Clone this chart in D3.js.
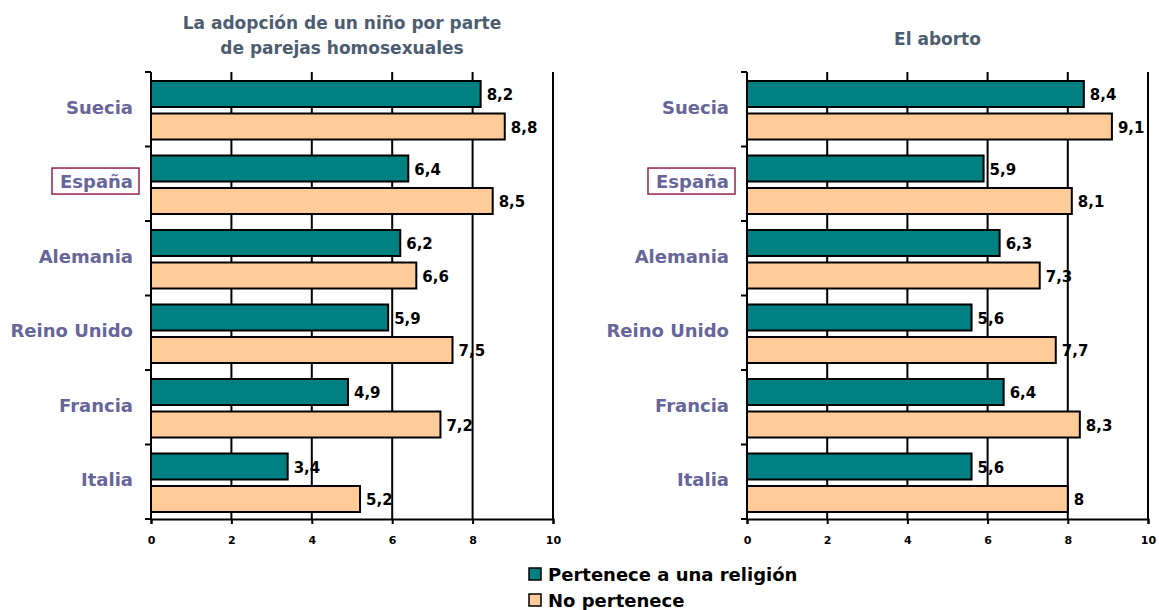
<!DOCTYPE html>
<html>
<head>
<meta charset="utf-8">
<script src="https://cdn.jsdelivr.net/npm/d3@7"></script>
<style>
  body { margin: 0; background: #fff; }
  svg text { font-family: "DejaVu Sans", Verdana, sans-serif; font-weight: bold; }
</style>
</head>
<body>
<svg id="chart" width="1159" height="610"></svg>
<script>
// datos
let paises = ["Suecia", "España", "Alemania", "Reino Unido", "Francia", "Italia"];
let series = ["Pertenece a una religión", "No pertenece"];
let adopcionReligion = [8.2, 6.4, 6.2, 5.9, 4.9, 3.4];
let adopcionNo = [8.8, 8.5, 6.6, 7.5, 7.2, 5.2];
let abortoReligion = [8.4, 5.9, 6.3, 5.6, 6.4, 5.6];
let abortoNo = [9.1, 8.1, 7.3, 7.7, 8.3, 8];
let ticksX = [0, 2, 4, 6, 8, 10];
let colores = ["#008080", "#ffcc99"];

let svg = d3.select("#chart");
let fmt = function (d) { return String(d).replace(".", ","); };

function panel(x0, x1, titulo, valores) {
    let top = 72, bottom = 519;

    let xScale = d3.scaleLinear().domain([0, 10]).range([x0, x1]);
    let yScale = d3.scaleBand().domain(paises).range([top, bottom]);
    let inner = d3.scaleBand().domain([0, 1]).range([9, yScale.bandwidth() - 7]).paddingInner(0.2);

    let g = svg.append("g");

    // lineas verticales
    g.selectAll(".grid")
        .data(ticksX.slice(1))
        .enter()
        .append("line")
        .attr("x1", function (d) { return xScale(d); })
        .attr("x2", function (d) { return xScale(d); })
        .attr("y1", top)
        .attr("y2", bottom)
        .attr("stroke", "#000")
        .attr("stroke-width", 2);

    // eje x
    let xAxis = d3.axisBottom(xScale).tickValues(ticksX).tickSize(5).tickPadding(12);
    let gx = g.append("g")
        .attr("transform", "translate(0," + bottom + ")")
        .call(xAxis);
    gx.select(".domain").attr("stroke-width", 2);
    gx.selectAll("line").attr("stroke-width", 2);
    gx.selectAll("text").style("font-size", "11px").attr("fill", "#000");

    // eje y con marcas en los limites
    g.append("line")
        .attr("x1", x0).attr("x2", x0)
        .attr("y1", top).attr("y2", bottom)
        .attr("stroke", "#000").attr("stroke-width", 2);
    g.selectAll(".ytick")
        .data(paises.concat(["fin"]))
        .enter()
        .append("line")
        .attr("x1", x0 - 6).attr("x2", x0)
        .attr("y1", function (d, i) { return top + i * yScale.step(); })
        .attr("y2", function (d, i) { return top + i * yScale.step(); })
        .attr("stroke", "#000").attr("stroke-width", 2);

    // barras
    valores.forEach(function (vals, s) {
        g.selectAll(".bar" + s)
            .data(vals)
            .enter()
            .append("rect")
            .attr("x", xScale(0))
            .attr("y", function (d, i) { return yScale(paises[i]) + inner(s); })
            .attr("width", function (d) { return xScale(d) - xScale(0); })
            .attr("height", inner.bandwidth())
            .attr("fill", colores[s])
            .attr("stroke", "#000")
            .attr("stroke-width", 2);

        g.selectAll(".lab" + s)
            .data(vals)
            .enter()
            .append("text")
            .attr("x", function (d) { return xScale(d) + 6; })
            .attr("y", function (d, i) { return yScale(paises[i]) + inner(s) + inner.bandwidth() / 2 + 1; })
            .attr("dy", "0.35em")
            .style("font-size", "15px")
            .attr("fill", "#000")
            .text(fmt);
    });

    // etiquetas de paises
    g.selectAll(".pais")
        .data(paises)
        .enter()
        .append("text")
        .attr("x", x0 - 18)
        .attr("y", function (d) { return yScale(d) + yScale.bandwidth() / 2 - 2; })
        .attr("dy", "0.35em")
        .attr("text-anchor", "end")
        .style("font-size", "18px")
        .attr("fill", "#66669a")
        .text(function (d) { return d; })
        .each(function (d) {
            if (d === "España") {
                let b = this.getBBox();
                g.append("rect")
                    .attr("x", b.x - 8)
                    .attr("y", b.y - 3)
                    .attr("width", b.width + 14)
                    .attr("height", b.height + 5)
                    .attr("fill", "none")
                    .attr("stroke", "#99204a")
                    .attr("stroke-width", 1.5);
            }
        });

    // titulo
    let t = g.append("text")
        .attr("x", (x0 + x1) / 2 - 10)
        .attr("text-anchor", "middle")
        .style("font-size", "17px")
        .attr("fill", "#4d5d70");
    let lineas = titulo.split("\n");
    lineas.forEach(function (l, i) {
        t.append("tspan")
            .attr("x", (x0 + x1) / 2 - 10)
            .attr("y", lineas.length === 1 ? 45 : 29 + i * 25)
            .text(l);
    });
}

panel(151, 553, "La adopción de un niño por parte\nde parejas homosexuales", [adopcionReligion, adopcionNo]);
panel(747, 1148, "El aborto", [abortoReligion, abortoNo]);

// leyenda
let ley = svg.append("g").attr("transform", "translate(529,568)");
series.forEach(function (s, i) {
    ley.append("rect")
        .attr("x", 0).attr("y", i * 26)
        .attr("width", 12).attr("height", 12)
        .attr("fill", colores[i])
        .attr("stroke", "#000").attr("stroke-width", 1.5);
    ley.append("text")
        .attr("x", 19).attr("y", i * 26 + 13)
        .style("font-size", "18px")
        .attr("fill", "#000")
        .text(s);
});
</script>
</body>
</html>
